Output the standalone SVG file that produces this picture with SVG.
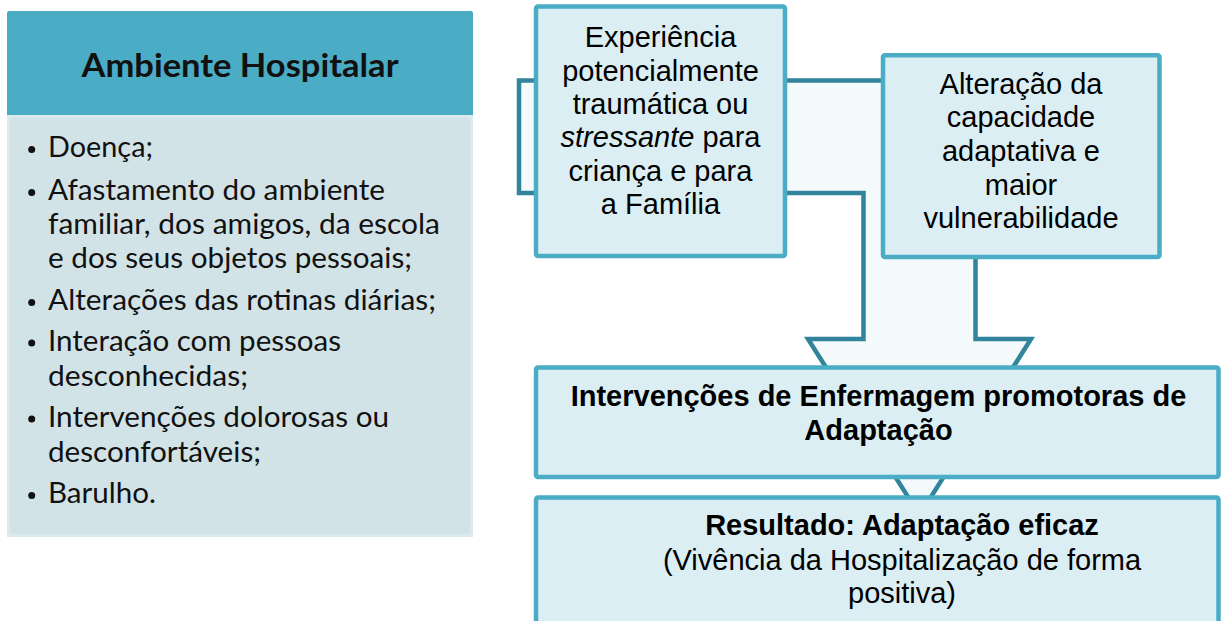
<svg xmlns="http://www.w3.org/2000/svg" width="1223" height="621" viewBox="0 0 1223 621">
<style>
.box{fill:#DAEEF3;stroke:#4BACC6;stroke-width:4.5}
.arrow{fill:#F4F9FB;stroke:#31849B;stroke-width:4.5;stroke-linejoin:miter}
.t{font-family:"Liberation Sans",Arial,sans-serif;font-size:29px;fill:#000;text-anchor:middle}
.b{font-weight:bold}
.li{font-family:Lato,"Open Sans",sans-serif;font-size:28px;fill:#111}
.hd{font-family:Lato,"Open Sans",sans-serif;font-size:32.5px;font-weight:bold;fill:#111;text-anchor:middle}
.dot{fill:#111}
</style>
<rect width="1223" height="621" fill="#fff"/>
<g id="connectors">
<polygon class="arrow" points="519,80.5 975.5,80.5 975.5,339 1031,339 919.5,515 808,339 863.5,339 863.5,193 519,193"/>
</g>
<g id="ambiente-hospitalar">
<rect x="7" y="11" width="466" height="106" rx="2" fill="#4BACC6"/>
<rect x="8.5" y="116.5" width="463" height="419" fill="#D2E3E7" stroke="#DCEAEE" stroke-width="3"/>
<text class="hd" x="240" y="77" textLength="317" lengthAdjust="spacingAndGlyphs">Ambiente Hospitalar</text>
<circle class="dot" cx="31.7" cy="149.5" r="3.5"/>
<circle class="dot" cx="31.7" cy="192.5" r="3.5"/>
<circle class="dot" cx="31.7" cy="302.5" r="3.5"/>
<circle class="dot" cx="31.7" cy="343" r="3.5"/>
<circle class="dot" cx="31.7" cy="419" r="3.5"/>
<circle class="dot" cx="31.7" cy="495.5" r="3.5"/>
<text class="li" x="48" y="157" textLength="105" lengthAdjust="spacingAndGlyphs">Doença;</text>
<text class="li" x="48" y="200" textLength="337" lengthAdjust="spacingAndGlyphs">Afastamento do ambiente</text>
<text class="li" x="48" y="233.5" textLength="392" lengthAdjust="spacingAndGlyphs">familiar, dos amigos, da escola</text>
<text class="li" x="48" y="267.5" textLength="364" lengthAdjust="spacingAndGlyphs">e dos seus objetos pessoais;</text>
<text class="li" x="48" y="310" textLength="388" lengthAdjust="spacingAndGlyphs">Alterações das rotinas diárias;</text>
<text class="li" x="48" y="350.5" textLength="293" lengthAdjust="spacingAndGlyphs">Interação com pessoas</text>
<text class="li" x="48" y="385.5" textLength="200" lengthAdjust="spacingAndGlyphs">desconhecidas;</text>
<text class="li" x="48" y="426.5" textLength="341" lengthAdjust="spacingAndGlyphs">Intervenções dolorosas ou</text>
<text class="li" x="48" y="461.5" textLength="213" lengthAdjust="spacingAndGlyphs">desconfortáveis;</text>
<text class="li" x="48" y="503" textLength="108" lengthAdjust="spacingAndGlyphs">Barulho.</text>
</g>
<g id="experiencia">
<rect class="box" x="536" y="6.5" width="249" height="249.5" rx="2"/>
<text class="t" x="660.5" y="47">Experiência</text>
<text class="t" x="660.5" y="81">potencialmente</text>
<text class="t" x="660.5" y="114">traumática ou</text>
<text class="t" x="660.5" y="147"><tspan font-style="italic">stressante</tspan> para</text>
<text class="t" x="660.5" y="180.5">criança e para</text>
<text class="t" x="660.5" y="214">a Família</text>
</g>
<g id="alteracao">
<rect class="box" x="883" y="55.3" width="276.5" height="201.7" rx="2"/>
<text class="t" x="1021" y="93.5">Alteração da</text>
<text class="t" x="1021" y="127">capacidade</text>
<text class="t" x="1021" y="161">adaptativa e</text>
<text class="t" x="1021" y="194.5">maior</text>
<text class="t" x="1021" y="228">vulnerabilidade</text>
</g>
<g id="intervencoes">
<rect class="box" x="536" y="367.5" width="682.5" height="109.5" rx="2"/>
<text class="t b" x="878.5" y="406">Intervenções de Enfermagem promotoras de</text>
<text class="t b" x="878.5" y="440">Adaptação</text>
</g>
<g id="resultado">
<rect class="box" x="536" y="497.5" width="682.5" height="150" rx="2"/>
<text class="t b" x="902" y="535">Resultado: Adaptação eficaz</text>
<text class="t" x="902" y="570">(Vivência da Hospitalização de forma</text>
<text class="t" x="902" y="603">positiva)</text>
</g>
</svg>
